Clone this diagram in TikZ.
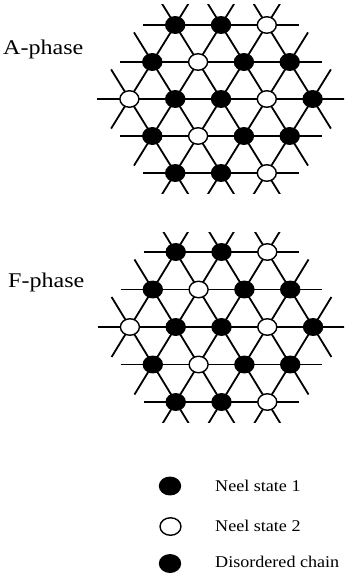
\documentclass[tikz,border=0pt]{standalone}
\usepackage{fontspec}
\setmainfont{Liberation Serif}
\usetikzlibrary{shapes.geometric}
\tikzset{
  site/.style={ellipse, draw=black, line width=1.4bp, minimum width=19bp, minimum height=16.5bp, inner sep=0pt},
  keysite/.style={site, minimum width=21bp, minimum height=17.5bp},
  bond/.style={line width=1.8bp, black},
  phaselabel/.style={anchor=base west, inner sep=0pt, font=\fontsize{21}{24}\selectfont},
  legendtext/.style={anchor=base west, inner sep=0pt, font=\fontsize{16.5}{19}\selectfont},
}
% #1 cx, #2 cy, #3 row height, #4 name prefix
\newcommand{\drawlattice}[4]{%
  \begin{scope}
    \clip (0,{#2-2*#3-20}) rectangle (344,{#2+2*#3+20});
    % horizontal lines
    \foreach \jj in {0,...,4}{
      \pgfmathsetmacro\ia{max(0,2-\jj)-0.7}
      \pgfmathsetmacro\ib{min(4,6-\jj)+0.7}
      \coordinate (#4-hs\jj) at ({#1+45.8*(\ia-2+(\jj-2)/2)},{#2+#3*(\jj-2)});
      \coordinate (#4-he\jj) at ({#1+45.8*(\ib-2+(\jj-2)/2)},{#2+#3*(\jj-2)});
      \draw[bond] (#4-hs\jj) -- (#4-he\jj);
    }
    % down-right lines (i fixed)
    \foreach \ii in {0,...,4}{
      \pgfmathsetmacro\ja{max(0,2-\ii)-0.8}
      \pgfmathsetmacro\jb{min(4,6-\ii)+0.8}
      \coordinate (#4-rs\ii) at ({#1+45.8*(\ii-2+(\ja-2)/2)},{#2+#3*(\ja-2)});
      \coordinate (#4-re\ii) at ({#1+45.8*(\ii-2+(\jb-2)/2)},{#2+#3*(\jb-2)});
      \draw[bond] (#4-rs\ii) -- (#4-re\ii);
    }
    % down-left lines (i+j fixed)
    \foreach \ss in {2,...,6}{
      \pgfmathsetmacro\ja{max(0,\ss-4)-0.8}
      \pgfmathsetmacro\jb{min(4,\ss)+0.8}
      \coordinate (#4-ls\ss) at ({#1+45.8*(\ss-\ja-2+(\ja-2)/2)},{#2+#3*(\ja-2)});
      \coordinate (#4-le\ss) at ({#1+45.8*(\ss-\jb-2+(\jb-2)/2)},{#2+#3*(\jb-2)});
      \draw[bond] (#4-ls\ss) -- (#4-le\ss);
    }
  \end{scope}
  % sites
  \foreach \ii in {0,...,4}{
    \foreach \jj in {0,...,4}{
      \pgfmathtruncatemacro\sm{\ii+\jj}
      \ifnum\sm<2\else\ifnum\sm>6\else
        \pgfmathtruncatemacro\col{mod(\ii-\jj+9,3)}
        \ifnum\col=1 \def\fc{white}\else\def\fc{black}\fi
        \node[site, fill=\fc] (#4-\ii-\jj) at ({#1+45.8*(\ii-2+(\jj-2)/2)},{#2+#3*(\jj-2)}) {};
      \fi\fi
    }
  }%
}
\begin{document}
\begin{tikzpicture}[x=1bp, y=-1bp]
  \useasboundingbox (0,0) rectangle (344,573);
  \node[phaselabel] (Alabel) at (3,55) {\scalebox{1.15}[1]{A-phase}};
  \node[phaselabel] (Flabel) at (8,287) {\scalebox{1.15}[1]{F-phase}};
  \drawlattice{221}{99}{37}{A}
  \drawlattice{221.5}{327}{37.5}{F}
  % legend
  \node[keysite, fill=black] (k1) at (170,486) {};
  \node[keysite, fill=white] (k2) at (170.5,526.5) {};
  \node[keysite, fill=black] (k3) at (170,563.5) {};
  \node[legendtext] (t1) at (215,491) {\scalebox{1.1}[1]{Neel state 1}};
  \node[legendtext] (t2) at (215,531.5) {\scalebox{1.1}[1]{Neel state 2}};
  \node[legendtext] (t3) at (215,567.5) {\scalebox{1.1}[1]{Disordered chain}};
\end{tikzpicture}
\end{document}
